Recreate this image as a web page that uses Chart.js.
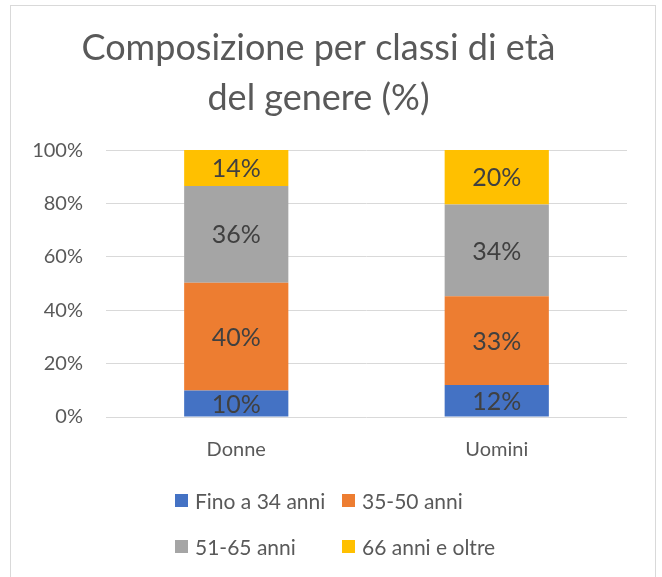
<!DOCTYPE html>
<html lang="it">
<head>
<meta charset="UTF-8">
<title>Composizione per classi di età del genere</title>
<script src="https://cdn.jsdelivr.net/npm/chart.js"></script>
<style>
  body { margin: 0; background: #fff; }
  #frame { position: absolute; left: 10px; top: 5px; width: 644px; height: 600px; border: 1px solid #d9d9d9; }
  #wrap { position: absolute; left: 0; top: 0; width: 662px; height: 577px; }
</style>
</head>
<body>
<div id="frame"></div>
<div id="wrap"><canvas id="chart"></canvas></div>
<script>
// categories and series (percent)
const categories = ['Donne', 'Uomini'];
const seriesNames = ['Fino a 34 anni', '35-50 anni', '51-65 anni', '66 anni e oltre'];
const fino34 = [9.9, 12.0];
const da35a50 = [40.4, 33.2];
const da51a65 = [36.2, 34.4];
const over66 = [13.5, 20.4];
const yTicks = [0, 20, 40, 60, 80, 100];

const colors = ['#4472C4', '#ED7D31', '#A5A5A5', '#FFC000'];
const FONT = 'Lato, "Open Sans", sans-serif';

// value labels in the middle of each segment
const segmentLabels = {
  id: 'segmentLabels',
  afterDatasetsDraw(chart) {
    const ctx = chart.ctx;
    ctx.save();
    ctx.font = '25px ' + FONT;
    ctx.fillStyle = '#404040';
    ctx.textAlign = 'center';
    ctx.textBaseline = 'middle';
    chart.data.datasets.forEach((ds, i) => {
      chart.getDatasetMeta(i).data.forEach((bar, j) => {
        ctx.fillText(Math.round(ds.data[j]) + '%', bar.x, (bar.y + bar.base) / 2 + 1);
      });
    });
    ctx.restore();
  }
};

// legend laid out in two columns like the original
const gridLegend = {
  id: 'gridLegend',
  afterDraw(chart) {
    const ctx = chart.ctx;
    const colX = [175, 342];
    const rowY = [501, 547];
    ctx.save();
    ctx.font = '21px ' + FONT;
    ctx.textBaseline = 'middle';
    chart.data.datasets.forEach((ds, i) => {
      const x = colX[i % 2];
      const y = rowY[Math.floor(i / 2)];
      ctx.fillStyle = ds.backgroundColor;
      ctx.fillRect(x, y - 7, 13, 13);
      ctx.fillStyle = '#595959';
      ctx.fillText(ds.label, x + 20, y + 1);
    });
    ctx.restore();
  }
};

const seriesData = [fino34, da35a50, da51a65, over66];

new Chart(document.getElementById('chart'), {
  type: 'bar',
  data: {
    labels: categories,
    datasets: seriesNames.map((name, i) => ({
      label: name,
      data: seriesData[i],
      backgroundColor: colors[i],
      categoryPercentage: 0.8,
      barPercentage: 0.5
    }))
  },
  options: {
    responsive: true,
    maintainAspectRatio: false,
    animation: false,
    layout: { padding: { top: 0, left: 10, right: 35, bottom: 110 } },
    plugins: {
      legend: { display: false },
      tooltip: { enabled: false },
      title: {
        display: true,
        text: ['Composizione per classi di età', 'del genere (%)'],
        color: '#595959',
        font: { family: FONT, size: 36, weight: 'normal', lineHeight: 1.39 },
        padding: { top: 23, bottom: 27 }
      }
    },
    scales: {
      x: {
        stacked: true,
        grid: { display: false, drawTicks: false },
        border: { display: false },
        ticks: { color: '#595959', font: { family: FONT, size: 20 }, padding: 21 },
        afterFit(scale) { scale.height = 50; }
      },
      y: {
        stacked: true,
        min: 0,
        max: 100,
        afterBuildTicks(scale) { scale.ticks = yTicks.map(v => ({ value: v })); },
        grid: { color: '#d9d9d9', lineWidth: 1, drawTicks: false },
        border: { display: false },
        ticks: {
          color: '#595959',
          font: { family: FONT, size: 20 },
          padding: 23,
          callback: v => v + '%'
        },
        afterFit(scale) { scale.width = 96; }
      }
    }
  },
  plugins: [segmentLabels, gridLegend]
});
</script>
</body>
</html>
